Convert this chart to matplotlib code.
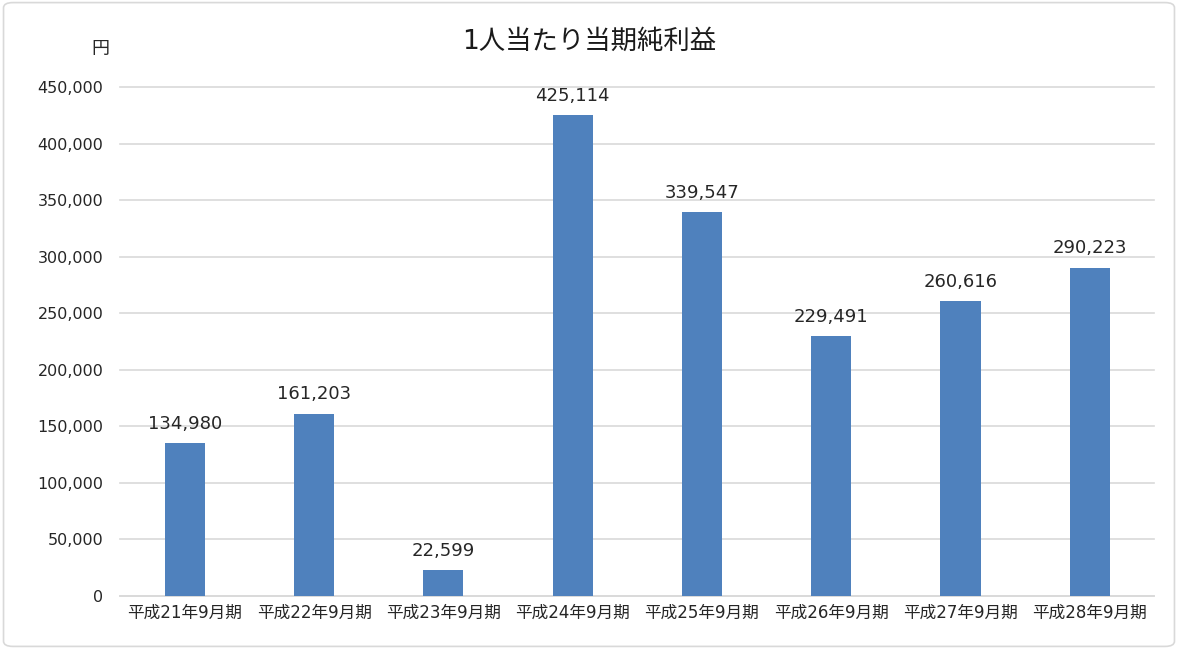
import matplotlib.pyplot as plt
from matplotlib.patches import FancyBboxPatch

plt.rcParams['font.family'] = ['DejaVu Sans', 'Noto Sans CJK JP']

# data
periods = ['平成21年9月期', '平成22年9月期', '平成23年9月期', '平成24年9月期',
           '平成25年9月期', '平成26年9月期', '平成27年9月期', '平成28年9月期']
profit = [134980, 161203, 22599, 425114, 339547, 229491, 260616, 290223]
yticks = [0, 50000, 100000, 150000, 200000, 250000, 300000, 350000, 400000, 450000]

fig = plt.figure(figsize=(11.78, 6.49), dpi=100)
ax = fig.add_axes([0.102, 0.082, 0.878, 0.784])

x = range(len(periods))
ax.bar(x, profit, width=0.31, color='#4F81BD', zorder=3)

for i, v in enumerate(profit):
    ax.text(i, v + 9000, f'{v:,}', ha='center', va='bottom', fontsize=13, color='#262626')

ax.set_xlim(-0.5, len(periods) - 0.5)
ax.set_ylim(0, 450000)
ax.set_yticks(yticks)
ax.set_yticklabels([f'{t:,}' for t in yticks], fontsize=11.5, color='#262626')
ax.set_xticks(list(x))
ax.set_xticklabels(periods, fontsize=12, color='#262626')
ax.tick_params(length=0, pad=12)
ax.tick_params(axis='x', pad=6)

ax.grid(axis='y', color='#D9D9D9', linewidth=1.2, zorder=0)
for gl in ax.get_ygridlines():
    gl.set_clip_on(False)
for s in ['top', 'right', 'left']:
    ax.spines[s].set_visible(False)
ax.spines['bottom'].set_color('#D9D9D9')
ax.spines['bottom'].set_linewidth(1.2)

fig.text(0.5, 0.935, '1人当たり当期純利益', ha='center', va='center', fontsize=19, color='#1a1a1a')
fig.text(0.085, 0.925, '円', ha='center', va='center', fontsize=13, color='#262626')

border = FancyBboxPatch((0.003, 0.004), 0.994, 0.992, boxstyle='round,pad=0,rounding_size=0.008',
                        transform=fig.transFigure, fill=False, edgecolor='#D9D9D9', linewidth=1.2)
fig.patches.append(border)

fig.savefig('out.png', dpi=100)
